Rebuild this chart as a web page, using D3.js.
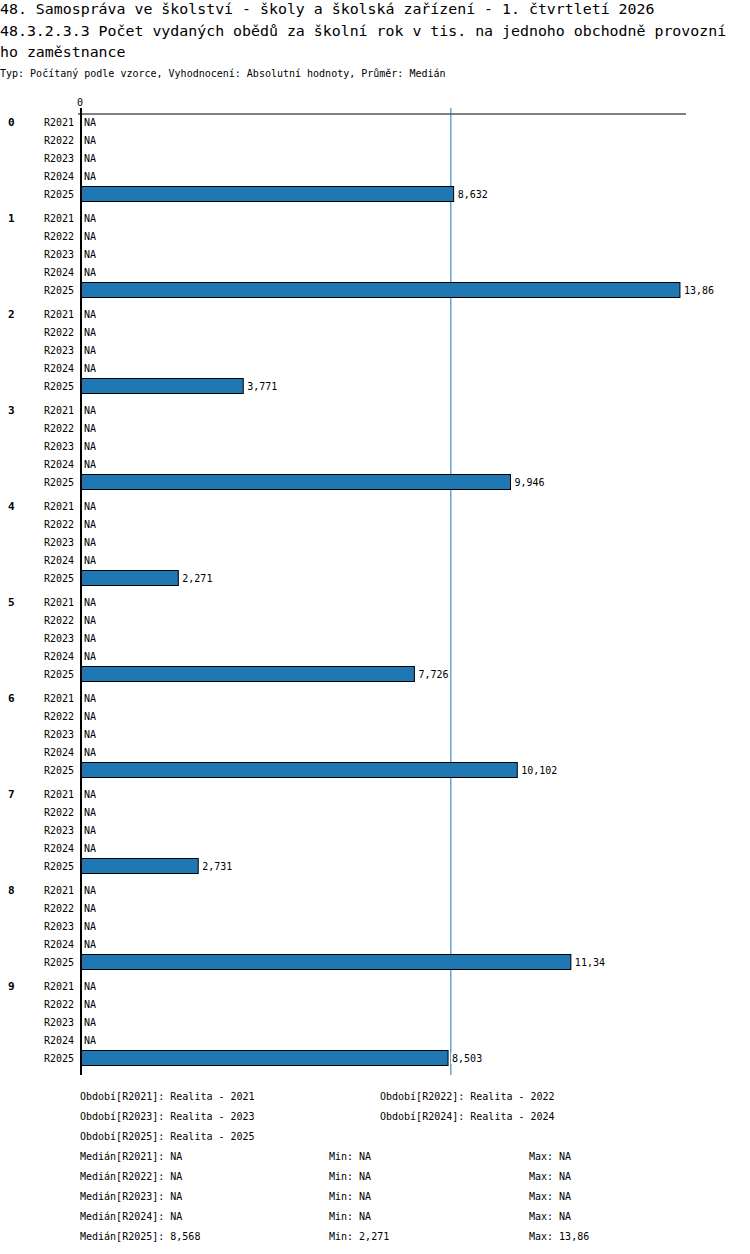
<!DOCTYPE html>
<html>
<head>
<meta charset="utf-8">
<script src="https://cdn.jsdelivr.net/npm/d3@7"></script>
<style>
  body { margin: 0; background: #fff; }
  svg text { font-family: "DejaVu Sans Mono", monospace; fill: #000; }
</style>
</head>
<body>
<svg id="chart" width="750" height="1254"></svg>
<script>
const titleLines = [
  "48. Samospráva ve školství - školy a školská zařízení - 1. čtvrtletí 2026",
  "48.3.2.3.3 Počet vydaných obědů za školní rok v tis. na jednoho obchodně provozní",
  "ho zaměstnance"
];
const subtitle = "Typ: Počítaný podle vzorce, Vyhodnocení: Absolutní hodnoty, Průměr: Medián";
const groups = ["0","1","2","3","4","5","6","7","8","9"];
const periods = ["R2021","R2022","R2023","R2024","R2025"];
const valuesR2021 = [null,null,null,null,null,null,null,null,null,null];
const valuesR2022 = [null,null,null,null,null,null,null,null,null,null];
const valuesR2023 = [null,null,null,null,null,null,null,null,null,null];
const valuesR2024 = [null,null,null,null,null,null,null,null,null,null];
const valuesR2025 = [8.632,13.86,3.771,9.946,2.271,7.726,10.102,2.731,11.34,8.503];
const seriesValues = [valuesR2021,valuesR2022,valuesR2023,valuesR2024,valuesR2025];
const periodNames = ["Realita - 2021","Realita - 2022","Realita - 2023","Realita - 2024","Realita - 2025"];
const medians = [null,null,null,null,8.568];
const mins = [null,null,null,null,2.271];
const maxs = [null,null,null,null,13.86];
const xTicks = [0];

const fmt = v => v == null ? "NA" : String(v).replace(".", ",");

const svg = d3.select("#chart");

// titles
svg.selectAll("text.title").data(titleLines).join("text")
  .attr("class","title")
  .attr("x", 0).attr("y", (d,i) => 14 + i*21.5)
  .style("font-size","14.9px")
  .text(d => d);
svg.append("text").attr("x",0).attr("y",77).style("font-size","10px").text(subtitle);

// scales
const x = d3.scaleLinear().domain([0, 14]).range([80, 686]);
const rowStep = 18, groupGap = 6;
const groupStep = periods.length*rowStep + groupGap;
const top0 = 122;
const rowY = (gi, pi) => top0 + gi*groupStep + pi*rowStep;

// top axis
const axisG = svg.append("g").attr("transform","translate(0,114)");
axisG.append("line").attr("x1",78).attr("x2",x.range()[1]).attr("y1",0).attr("y2",0)
  .attr("stroke","#000").attr("stroke-width",1);
axisG.selectAll("text").data(xTicks).join("text")
  .attr("x", d => x(d)).attr("y",-8).attr("text-anchor","middle")
  .style("font-size","10px").text(d => d);

// median line
const med = medians[4];
svg.append("line").attr("x1",x(med)).attr("x2",x(med)).attr("y1",108).attr("y2",1075)
  .attr("stroke","#1f77b4").attr("stroke-width",1);

// rows
groups.forEach((g, gi) => {
  svg.append("text").attr("x",8).attr("y",rowY(gi,0)+4)
    .style("font-size","11px").style("font-weight","bold").text(g);
  periods.forEach((p, pi) => {
    const y = rowY(gi, pi);
    const v = seriesValues[pi][gi];
    svg.append("text").attr("x",74).attr("y",y+4).attr("text-anchor","end")
      .style("font-size","10px").text(p);
    if (v == null) {
      svg.append("text").attr("x",84).attr("y",y+4).style("font-size","10px").text("NA");
    } else {
      svg.append("rect").attr("x",x(0)+1.5).attr("y",y-7.5)
        .attr("width",x(v)-x(0)-1.5).attr("height",15)
        .attr("fill","#1f77b4").attr("stroke","#000").attr("stroke-width",1);
      const t = svg.append("text").attr("x",x(v)+4).attr("y",y+4)
        .style("font-size","10px").text(fmt(v));
      const bb = t.node().getBBox();
      svg.insert("rect", function(){ return t.node(); })
        .attr("x",bb.x-1).attr("y",bb.y).attr("width",bb.width+2).attr("height",bb.height)
        .attr("fill","#fff");
    }
  });
});

// y axis line
svg.append("line").attr("x1",81).attr("x2",81).attr("y1",108).attr("y2",1075)
  .attr("stroke","#000").attr("stroke-width",2);

// footer legend
const fy = 1096;
periods.forEach((p, i) => {
  const col = i % 2, row = Math.floor(i/2);
  svg.append("text").attr("x", col ? 380 : 80).attr("y", fy + row*20 + 4)
    .style("font-size","10px").text(`Období[${p}]: ${periodNames[i]}`);
});
periods.forEach((p, i) => {
  const y = fy + 60 + i*20 + 4;
  svg.append("text").attr("x",80).attr("y",y).style("font-size","10px").text(`Medián[${p}]: ${fmt(medians[i])}`);
  svg.append("text").attr("x",329).attr("y",y).style("font-size","10px").text(`Min: ${fmt(mins[i])}`);
  svg.append("text").attr("x",529).attr("y",y).style("font-size","10px").text(`Max: ${fmt(maxs[i])}`);
});
</script>
</body>
</html>
